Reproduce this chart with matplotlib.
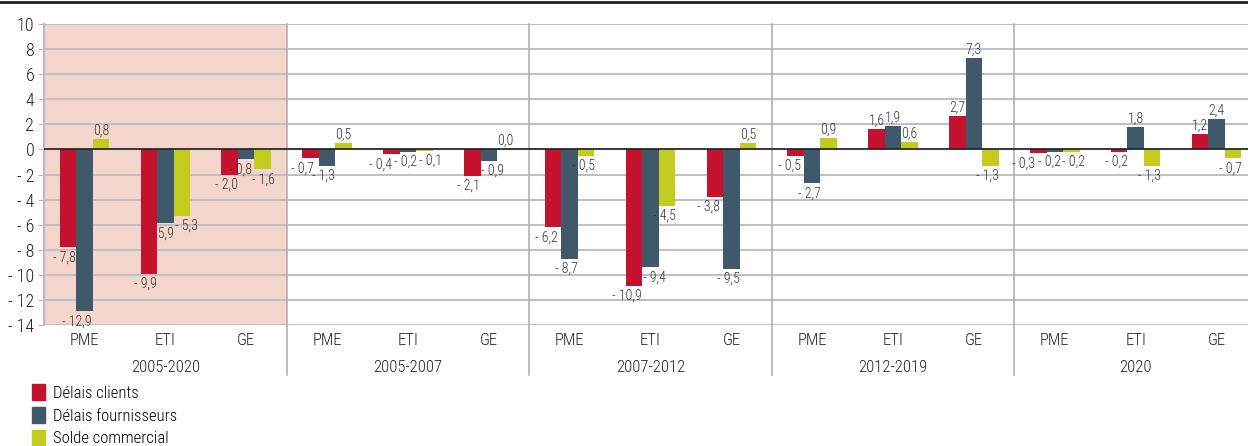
import matplotlib.pyplot as plt
import numpy as np
from matplotlib.lines import Line2D
from matplotlib.patches import Patch

plt.rcParams['font.family'] = ['Roboto Condensed', 'DejaVu Sans']
plt.rcParams['font.weight'] = 'light'

periods = ['2005-2020', '2005-2007', '2007-2012', '2012-2019', '2020']
sizes = ['PME', 'ETI', 'GE']
series_names = ['Délais clients', 'Délais fournisseurs', 'Solde commercial']
colors = ['#C4122F', '#3F596B', '#C3CB1F']

delais_clients = [-7.8, -9.9, -2.0, -0.7, -0.4, -2.1, -6.2, -10.9, -3.8,
                  -0.5, 1.6, 2.7, -0.3, -0.2, 1.2]
delais_fournisseurs = [-12.9, -5.9, -0.8, -1.3, -0.2, -0.9, -8.7, -9.4, -9.5,
                       -2.7, 1.9, 7.3, -0.2, 1.8, 2.4]
solde_commercial = [0.8, -5.3, -1.6, 0.5, -0.1, 0.0, -0.5, -4.5, 0.5,
                    0.9, 0.6, -1.3, -0.2, -1.3, -0.7]

series = [delais_clients, delais_fournisseurs, solde_commercial]

# horizontal nudges (pixels) for crowded labels, keyed by (series, category)
nudge = {(0, 3): -5, (0, 4): -8, (1, 4): 1, (2, 4): 9,
         (0, 12): -12, (1, 12): -2, (2, 12): 5,
         (0, 5): -1, (1, 5): 7, (1, 2): -3, (2, 2): 4, (2, 1): 8,
         (1, 7): 7, (0, 7): -4, (0, 6): -4, (0, 8): -3, (0, 9): -3,
         (1, 0): -4.5, (1, 3): -1}


def fmt(v):
    s = f"{abs(v):.1f}".replace('.', ',')
    return ('- ' + s) if v < 0 else s


fig = plt.figure(figsize=(12.48, 4.46), dpi=100)
ax = fig.add_axes([44 / 1248, 121 / 446, 1213 / 1248, 301 / 446])

x = np.arange(len(delais_clients))
width = 0.204

# shaded first period
ax.axvspan(-0.5, 2.5, color='#F5D6CC', zorder=0, lw=0)

px = 72 / 100
for i, (name, vals, c) in enumerate(zip(series_names, series, colors)):
    xs = x + (i - 1) * width
    ax.bar(xs, vals, width, color=c, label=name, zorder=3)
    for k, (xi, v) in enumerate(zip(xs, vals)):
        dx = nudge.get((i, k), 0)
        if v < 0:
            ax.annotate(fmt(v), (xi, v), xytext=((dx - 3) * px, -3 * px), textcoords='offset points',
                        ha='center', va='top', fontsize=10, color='#333333', zorder=5)
        else:
            ax.annotate(fmt(v), (xi, v), xytext=(dx * px, 1), textcoords='offset points',
                        ha='center', va='bottom', fontsize=10, color='#333333', zorder=5)

ax.set_xlim(-0.5, len(x) - 0.5)
ax.set_ylim(-14, 10)
yt = np.arange(-14, 11, 2)
ax.set_yticks(yt)
ax.set_yticklabels([('- ' + str(abs(t))) if t < 0 else str(t) for t in yt], fontsize=13, color='#222222')
ax.tick_params(axis='y', length=4, color='#BBBBBB', pad=3)
ax.set_xticks([])
ax.grid(axis='y', color='#C0C0C0', lw=1.5, zorder=1)
ax.set_axisbelow(True)
ax.axhline(0, color='#222222', lw=1.2, zorder=4)

for s in ['top', 'right', 'bottom']:
    ax.spines[s].set_visible(False)
ax.spines['left'].set_color('#BBBBBB')
ax.spines['left'].set_linewidth(1.5)

# period separators
for b in [2.5, 5.5, 8.5, 11.5]:
    ax.axvline(b, ymin=-50 / 301, ymax=1, color='#B0B0B0', lw=1.2, clip_on=False, zorder=2)

# category and period labels
for i in x:
    ax.text(i, -0.05, sizes[i % 3], transform=ax.get_xaxis_transform(),
            ha='center', va='center', fontsize=12, color='#222222')
for j, p in enumerate(periods):
    ax.text(3 * j + 1, -0.14, p, transform=ax.get_xaxis_transform(),
            ha='center', va='center', fontsize=12, color='#222222')

# top rule
fig.add_artist(Line2D([0, 1], [1 - 2 / 446, 1 - 2 / 446], color='#222222', lw=2))

handles = [Patch(color=c) for c in colors]
fig.legend(handles, series_names, loc='upper left', bbox_to_anchor=(0.026, 0.138),
           frameon=False, fontsize=12, handlelength=0.75, handleheight=1.1,
           handletextpad=0.5, labelspacing=0.36, borderpad=0, borderaxespad=0)

fig.savefig('out.png', dpi=100)
